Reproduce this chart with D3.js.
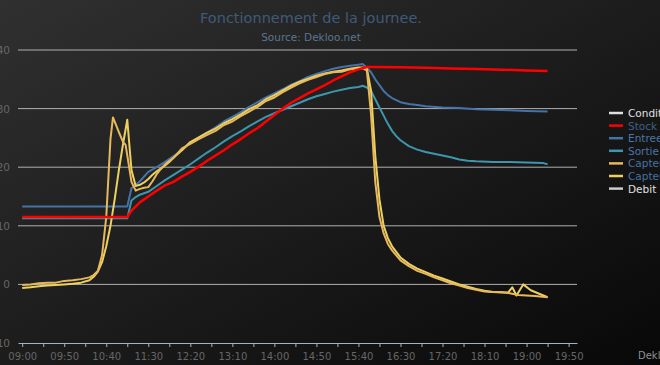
<!DOCTYPE html>
<html>
<head>
<meta charset="utf-8">
<script src="https://cdn.jsdelivr.net/npm/d3@7/dist/d3.min.js"></script>
<style>
  html, body { margin: 0; padding: 0; background: #000; }
  svg { display: block; font-family: "DejaVu Sans", Verdana, sans-serif; }
</style>
</head>
<body>
<div id="chart"></div>
<script>
// Data: [heure, valeur]
var stock = [["09:00", 11.5], ["11:05", 11.5], ["11:10", 12.6], ["11:20", 14.0], ["11:30", 15.0],
  ["11:40", 16.0], ["11:50", 16.9], ["12:00", 17.5], ["12:10", 18.4], ["12:20", 19.2], ["12:30", 20.1],
  ["12:40", 21.1], ["12:50", 22.0], ["13:00", 22.9], ["13:10", 23.9], ["13:20", 24.8], ["13:30", 25.8],
  ["13:40", 26.7], ["13:50", 27.8], ["14:00", 28.9], ["14:10", 30.0], ["14:20", 31.0], ["14:30", 31.8],
  ["14:40", 32.6], ["14:50", 33.3], ["15:00", 34.0], ["15:10", 34.8], ["15:20", 35.5], ["15:30", 36.2],
  ["15:40", 36.7], ["15:50", 37.1], ["16:00", 37.1], ["16:30", 37.05], ["17:00", 36.95], ["17:30", 36.85],
  ["18:00", 36.75], ["18:30", 36.65], ["19:00", 36.5], ["19:25", 36.4]];

var entree = [["09:00", 13.3], ["11:05", 13.3], ["11:10", 16.4], ["11:20", 17.6], ["11:30", 19.2],
  ["11:40", 20.0], ["11:50", 20.9], ["12:00", 21.9], ["12:10", 22.9], ["12:20", 24.2], ["12:30", 25.0],
  ["12:40", 25.9], ["12:50", 26.8], ["13:00", 27.8], ["13:10", 28.6], ["13:20", 29.4], ["13:30", 30.3],
  ["13:40", 31.1], ["13:50", 31.9], ["14:00", 32.6], ["14:10", 33.3], ["14:20", 34.1], ["14:30", 34.7],
  ["14:40", 35.4], ["14:50", 35.9], ["15:00", 36.4], ["15:10", 36.8], ["15:20", 37.1], ["15:30", 37.3],
  ["15:40", 37.5], ["15:45", 37.6], ["15:50", 37.0], ["15:55", 36.2], ["16:00", 35.0], ["16:05", 34.0],
  ["16:10", 33.0], ["16:15", 32.3], ["16:20", 31.8], ["16:30", 31.1], ["16:40", 30.8], ["16:50", 30.6],
  ["17:00", 30.4], ["17:20", 30.2], ["17:40", 30.1], ["18:00", 29.9], ["18:20", 29.8], ["18:40", 29.7],
  ["19:00", 29.6], ["19:25", 29.5]];

var sortie = [["09:00", 11.3], ["11:05", 11.3], ["11:10", 14.3], ["11:15", 14.9], ["11:20", 15.3],
  ["11:30", 15.8], ["11:40", 16.8], ["11:50", 17.8], ["12:00", 18.7], ["12:10", 19.6], ["12:20", 20.5],
  ["12:30", 21.5], ["12:40", 22.5], ["12:50", 23.4], ["13:00", 24.4], ["13:10", 25.3], ["13:20", 26.1],
  ["13:30", 27.0], ["13:40", 27.8], ["13:50", 28.6], ["14:00", 29.2], ["14:10", 29.8], ["14:20", 30.4],
  ["14:30", 31.0], ["14:40", 31.6], ["14:50", 32.1], ["15:00", 32.5], ["15:10", 32.9], ["15:20", 33.2],
  ["15:30", 33.5], ["15:40", 33.7], ["15:45", 33.9], ["15:50", 33.6], ["15:55", 33.0], ["16:00", 31.6],
  ["16:05", 30.2], ["16:10", 28.8], ["16:15", 27.4], ["16:20", 26.2], ["16:25", 25.3], ["16:30", 24.6],
  ["16:40", 23.6], ["16:50", 23.0], ["17:00", 22.6], ["17:10", 22.3], ["17:20", 22.0], ["17:30", 21.7],
  ["17:40", 21.3], ["17:50", 21.1], ["18:00", 21.0], ["18:20", 20.9], ["18:40", 20.9], ["19:00", 20.8],
  ["19:20", 20.7], ["19:25", 20.5]];

var capteur1 = [["09:00", -0.1], ["09:10", 0.0], ["09:20", 0.2], ["09:30", 0.3], ["09:40", 0.3],
  ["09:50", 0.6], ["10:00", 0.7], ["10:10", 0.9], ["10:20", 1.2], ["10:25", 1.6], ["10:30", 2.3],
  ["10:35", 5.0], ["10:40", 11.5], ["10:45", 24.8], ["10:48", 28.5], ["10:55", 26.0], ["11:00", 24.3],
  ["11:03", 23.8], ["11:10", 17.5], ["11:15", 16.0], ["11:20", 16.3], ["11:25", 16.5], ["11:30", 16.6],
  ["11:35", 17.6], ["11:40", 18.8], ["11:45", 19.7], ["11:50", 20.5], ["11:55", 21.1], ["12:00", 21.6],
  ["12:10", 23.2], ["12:20", 24.0], ["12:30", 24.8], ["12:40", 25.5], ["12:50", 26.2], ["13:00", 27.2],
  ["13:10", 27.8], ["13:20", 28.7], ["13:30", 29.5], ["13:40", 30.3], ["13:50", 31.3], ["14:00", 31.9],
  ["14:10", 32.8], ["14:20", 33.6], ["14:30", 34.3], ["14:40", 34.9], ["14:50", 35.4], ["15:00", 35.9],
  ["15:10", 36.2], ["15:20", 36.3], ["15:30", 36.7], ["15:40", 36.8], ["15:45", 36.9], ["15:50", 36.5],
  ["15:55", 29.0], ["16:00", 17.5], ["16:05", 11.5], ["16:10", 8.7], ["16:15", 6.9], ["16:20", 5.8],
  ["16:30", 4.1], ["16:40", 3.1], ["16:50", 2.3], ["17:00", 1.8], ["17:10", 1.2], ["17:20", 0.7],
  ["17:30", 0.2], ["17:40", -0.2], ["17:50", -0.6], ["18:00", -0.9], ["18:10", -1.2], ["18:20", -1.3],
  ["18:30", -1.3], ["18:40", -1.5], ["18:50", -1.8], ["19:00", -1.9], ["19:10", -2.0], ["19:25", -2.2]];

var capteur2 = [["09:00", -0.6], ["09:10", -0.5], ["09:20", -0.3], ["09:30", -0.2], ["09:40", -0.1],
  ["09:50", 0.0], ["10:00", 0.1], ["10:10", 0.3], ["10:20", 0.7], ["10:25", 1.3], ["10:30", 2.2],
  ["10:35", 3.8], ["10:40", 6.5], ["10:45", 10.0], ["10:50", 14.5], ["10:55", 19.5], ["11:00", 24.0],
  ["11:05", 28.1], ["11:10", 19.5], ["11:15", 16.8], ["11:20", 17.0], ["11:25", 17.4], ["11:30", 18.0],
  ["11:35", 18.7], ["11:40", 19.3], ["11:45", 19.8], ["11:50", 20.3], ["11:55", 20.9], ["12:00", 21.6],
  ["12:10", 22.9], ["12:20", 24.3], ["12:30", 25.1], ["12:40", 25.9], ["12:50", 26.6], ["13:00", 27.5],
  ["13:10", 28.2], ["13:20", 29.0], ["13:30", 29.9], ["13:40", 30.6], ["13:50", 31.6], ["14:00", 32.3],
  ["14:10", 33.1], ["14:20", 33.9], ["14:30", 34.6], ["14:40", 35.1], ["14:50", 35.6], ["15:00", 36.0],
  ["15:10", 36.3], ["15:20", 36.5], ["15:30", 36.8], ["15:40", 37.0], ["15:45", 37.0], ["15:50", 36.9],
  ["15:55", 33.0], ["16:00", 22.0], ["16:05", 14.5], ["16:10", 10.0], ["16:15", 7.9], ["16:20", 6.5],
  ["16:30", 4.6], ["16:40", 3.5], ["16:50", 2.7], ["17:00", 2.1], ["17:10", 1.5], ["17:20", 1.0],
  ["17:30", 0.5], ["17:40", 0.0], ["17:50", -0.4], ["18:00", -0.8], ["18:10", -1.1], ["18:20", -1.3],
  ["18:30", -1.4], ["18:38", -1.4], ["18:43", -0.5], ["18:48", -1.9], ["18:56", 0.0], ["19:05", -1.0],
  ["19:15", -1.6], ["19:25", -2.2]];

var seriesNames = ["Conditions", "Stock", "Entree", "Sortie", "Capteur 1", "Capteur 2", "Debit"];
var seriesColors = ["#e0e0e0", "#ff0000", "#4572a7", "#3d96ae", "#e8b95c", "#ecd060", "#cccccc"];
var legendTextColors = ["#e0e0e0", "#3d6189", "#4876a9", "#4876a9", "#4572a3", "#4572a3", "#e0e0e0"];
var yTicks = [-10, 0, 10, 20, 30, 40];

// SVG drawing area
var W = 660, H = 365;
var plot = {left: 18, right: 577, top: 50, bottom: 343};

var svg = d3.select("#chart").append("svg")
    .attr("width", W)
    .attr("height", H);

// background gradient
var defs = svg.append("defs");
var bg = defs.append("linearGradient")
    .attr("id", "bg")
    .attr("x1", 0).attr("y1", 0).attr("x2", 1).attr("y2", 1);
bg.append("stop").attr("offset", "0%").attr("stop-color", "#303030");
bg.append("stop").attr("offset", "100%").attr("stop-color", "#080808");

svg.append("rect")
    .attr("width", W)
    .attr("height", H)
    .attr("fill", "url(#bg)");

var parseTime = d3.timeParse("%H:%M");

var x = d3.scaleTime()
    .domain([parseTime("08:55"), parseTime("20:00")])
    .range([plot.left, plot.right]);

var y = d3.scaleLinear()
    .domain([-10, 40])
    .range([plot.bottom, plot.top]);

// title
svg.append("text")
    .attr("x", 311).attr("y", 23)
    .attr("text-anchor", "middle")
    .attr("fill", "#3e5b7a")
    .style("font-size", "14.5px")
    .text("Fonctionnement de la journee.");

svg.append("text")
    .attr("x", 311).attr("y", 41)
    .attr("text-anchor", "middle")
    .attr("fill", "#5a7590")
    .style("font-size", "10.5px")
    .text("Source: Dekloo.net");

// horizontal grid
svg.append("g")
    .selectAll("line")
    .data(yTicks.filter(function (d) { return d > -10; }))
    .enter().append("line")
    .attr("x1", plot.left)
    .attr("x2", plot.right)
    .attr("y1", function (d) { return y(d); })
    .attr("y2", function (d) { return y(d); })
    .attr("stroke", "#b0b0b0")
    .attr("stroke-width", 1);

// y labels
svg.append("g")
    .selectAll("text")
    .data(yTicks)
    .enter().append("text")
    .attr("x", 10)
    .attr("y", function (d) { return y(d) + 4; })
    .attr("text-anchor", "end")
    .attr("fill", "#666")
    .style("font-size", "10.5px")
    .text(function (d) { return d; });

// x axis
var xAxis = d3.axisBottom(x)
    .tickValues(d3.range(0, 651, 25).map(function (m) { return d3.timeMinute.offset(parseTime("09:00"), m); }))
    .tickSize(4)
    .tickSizeOuter(0)
    .tickFormat(function (d, i) { return i % 2 === 0 ? d3.timeFormat("%H:%M")(d) : ""; });

var gx = svg.append("g")
    .attr("transform", "translate(0," + plot.bottom + ")")
    .call(xAxis);
gx.select(".domain").attr("stroke", "#a0b3c8");
gx.selectAll(".tick line").attr("stroke", "#a0b3c8");
gx.selectAll(".tick text")
    .attr("fill", "#666")
    .attr("dy", "0.95em")
    .style("font-size", "10px")
    .style("font-family", "DejaVu Sans, sans-serif");

// lines
var line = d3.line()
    .x(function (d) { return x(parseTime(d[0])); })
    .y(function (d) { return y(d[1]); });

var drawn = [
    {data: sortie, color: seriesColors[3], w: 2},
    {data: entree, color: seriesColors[2], w: 2},
    {data: capteur2, color: seriesColors[5], w: 2},
    {data: capteur1, color: seriesColors[4], w: 2},
    {data: stock, color: seriesColors[1], w: 2.5}
];

svg.append("g")
    .selectAll("path")
    .data(drawn)
    .enter().append("path")
    .attr("d", function (d) { return line(d.data); })
    .attr("fill", "none")
    .attr("stroke", function (d) { return d.color; })
    .attr("stroke-width", function (d) { return d.w; })
    .attr("stroke-linejoin", "round");

// legend
var legend = svg.append("g")
    .selectAll("g")
    .data(seriesNames)
    .enter().append("g")
    .attr("transform", function (d, i) { return "translate(609," + (113 + i * 12.6) + ")"; });

legend.append("line")
    .attr("x1", 0).attr("x2", 14)
    .attr("stroke", function (d, i) { return seriesColors[i]; })
    .attr("stroke-width", 2.5);

legend.append("text")
    .attr("x", 19)
    .attr("y", 4)
    .attr("fill", function (d, i) { return legendTextColors[i]; })
    .style("font-size", "10.5px")
    .text(function (d) { return d; });

// credits
svg.append("text")
    .attr("x", 638).attr("y", 359)
    .attr("fill", "#909090")
    .style("font-size", "10px")
    .text("Dekloo.net");
</script>
</body>
</html>
